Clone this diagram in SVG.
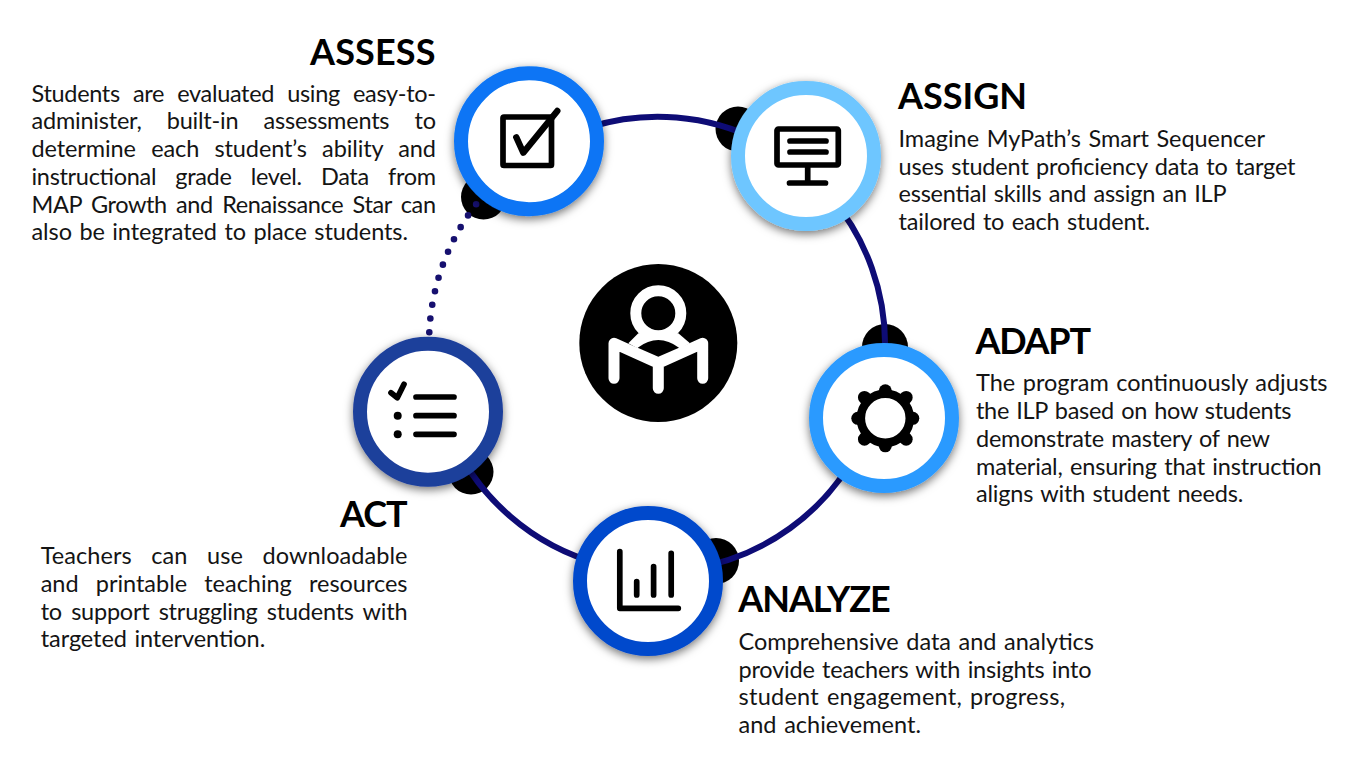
<svg xmlns="http://www.w3.org/2000/svg" width="1372" height="770" viewBox="0 0 1372 770">
<style>
.h{font-family:"Lato","Liberation Sans",sans-serif;font-weight:700;font-size:36px;fill:#000}
.b{font-family:"Lato","Liberation Sans",sans-serif;font-weight:400;font-size:23.5px;fill:#141414;word-spacing:1.6px}
.ring{fill:#fff;stroke-width:14;filter:url(#sh)}
.ic{fill:none;stroke:#000;stroke-width:5.7;stroke-linecap:round;stroke-linejoin:round}
.link{fill:none;stroke:#0e0c76;stroke-width:6}
.dot{fill:#000}
</style>
<defs>
<filter id="sh" x="-30%" y="-30%" width="160%" height="160%"><feDropShadow dx="0" dy="3" stdDeviation="5" flood-color="#000" flood-opacity="0.55"/></filter>
<line id="tooth" x1="0" y1="-20" x2="0" y2="-27.5" stroke="#000" stroke-width="13" stroke-linecap="round"/>
<line id="toothd" x1="0" y1="-20" x2="0" y2="-29.5" stroke="#000" stroke-width="13" stroke-linecap="round"/>
</defs>
<rect width="1372" height="770" fill="#fff"/>
<g id="connectors">
<circle class="dot" cx="738" cy="129" r="22.5"/>
<circle class="dot" cx="885" cy="347" r="23"/>
<circle class="dot" cx="716" cy="561" r="23"/>
<circle class="dot" cx="471" cy="472" r="22.5"/>
<circle class="dot" cx="483.5" cy="197" r="22.5"/>
<path class="link" d="M590 127A227.5 227.5 0 0 1 760 141"/>
<path class="link" d="M830 196A227.5 227.5 0 0 1 885 350"/>
<path class="link" d="M860 446A227.5 227.5 0 0 1 690 569"/>
<path class="link" d="M600 564A227.5 227.5 0 0 1 450 434"/>
<path class="link" d="M429.3 332.3A227.5 227.5 0 0 1 476.3 204" stroke-linecap="round" stroke-dasharray="0 13.85" style="stroke-width:6.6;stroke:#16106f"/>
</g>
<g id="center">
<circle cx="658.3" cy="343" r="79" fill="#000"/>
<circle cx="658.3" cy="313.3" r="22.5" fill="none" stroke="#fff" stroke-width="11"/>
<path d="M628.3 343.3L638.3 333.3H678.3L690 343.3L658.3 360Z" fill="#fff"/>
<path d="M614 378.3V343.3L658.3 363.3L702.7 343.3V378.3M658.3 363.3V388.3" fill="none" stroke="#fff" stroke-width="11" stroke-linecap="round" stroke-linejoin="round"/>
<path d="M637.7 347.7Q658.3 332.3 679 347.7L658.3 356.7Z" fill="#000"/>
</g>
<g id="assess">
<circle class="ring" cx="529" cy="141.3" r="68" stroke="#0a75f5"/>
<rect class="ic" x="503" y="117" width="48.5" height="48.5" rx="1"/>
<path class="ic" style="stroke-width:6.4" d="M516.3 137.3L523.3 152.7L557.3 111"/>
<text class="h" x="310" y="64.6" textLength="125.5">ASSESS</text>
<text class="b" x="31.5" y="101.5" textLength="404.5" style="word-spacing:7.4px">Students are evaluated using easy-to-</text>
<text class="b" x="31.5" y="129.3" textLength="404.5" style="word-spacing:19.4px">administer, built-in assessments to</text>
<text class="b" x="31.5" y="157" textLength="404.5" style="word-spacing:9.4px">determine each student’s ability and</text>
<text class="b" x="31.5" y="184.7" textLength="404.5" style="word-spacing:13.4px">instructional grade level. Data from</text>
<text class="b" x="31.5" y="212.5" textLength="404.5" style="word-spacing:3.8px">MAP Growth and Renaissance Star can</text>
<text class="b" x="31.5" y="240.2" textLength="376.5">also be integrated to place students.</text>
</g>
<g id="assign">
<circle class="ring" cx="806" cy="156" r="68" stroke="#6ec6ff"/>
<rect class="ic" x="777" y="129" width="61.3" height="36" rx="1.5"/>
<path class="ic" d="M790 141H826M790 152H826M807.7 167V183M789.5 183H825.5"/>
<text class="h" x="898" y="109" textLength="129">ASSIGN</text>
<text class="b" x="898.5" y="146.5" textLength="366.5">Imagine MyPath’s Smart Sequencer</text>
<text class="b" x="898.5" y="174.5" textLength="397">uses student proficiency data to target</text>
<text class="b" x="898.5" y="202.2" textLength="328">essential skills and assign an ILP</text>
<text class="b" x="898.5" y="229.8" textLength="251.5">tailored to each student.</text>
</g>
<g id="adapt">
<circle class="ring" cx="884" cy="418" r="68" stroke="#2b9aff"/>
<g transform="translate(885.3 418.3)">
<use href="#tooth"/><use href="#toothd" transform="rotate(45)"/><use href="#tooth" transform="rotate(90)"/><use href="#toothd" transform="rotate(135)"/><use href="#tooth" transform="rotate(180)"/><use href="#toothd" transform="rotate(225)"/><use href="#tooth" transform="rotate(270)"/><use href="#toothd" transform="rotate(315)"/>
</g>
<circle cx="885.3" cy="418.3" r="24.5" fill="#fff" stroke="#000" stroke-width="8.6"/>
<text class="h" x="975.5" y="354" textLength="115.5">ADAPT</text>
<text class="b" x="976" y="391.2" textLength="351.5">The program continuously adjusts</text>
<text class="b" x="976" y="419" textLength="315.5">the ILP based on how students</text>
<text class="b" x="976" y="446.8" textLength="294">demonstrate mastery of new</text>
<text class="b" x="976" y="474.5" textLength="345.7">material, ensuring that instruction</text>
<text class="b" x="976" y="502.3" textLength="267.3">aligns with student needs.</text>
</g>
<g id="analyze">
<circle class="ring" cx="648" cy="581" r="68" stroke="#0449cc"/>
<path class="ic" d="M619.8 551.7V608.3H678.3M636.7 581.7V595M653.6 566.7V595M671.2 553.3V595"/>
<text class="h" x="738.3" y="612" textLength="152.5">ANALYZE</text>
<text class="b" x="738.5" y="649.5" textLength="355.5">Comprehensive data and analytics</text>
<text class="b" x="738.5" y="677.5" textLength="353">provide teachers with insights into</text>
<text class="b" x="738.5" y="705.2" textLength="326.5">student engagement, progress,</text>
<text class="b" x="738.5" y="732.5" textLength="182.5">and achievement.</text>
</g>
<g id="act">
<circle class="ring" cx="428" cy="411.7" r="68" stroke="#1f3f9b"/>
<path class="ic" d="M391 392.7L397.3 397.7L404 384.3M416 397H454M416 415.7H454M416 434.3H454"/>
<circle cx="397.7" cy="415.7" r="4"/><circle cx="397.7" cy="434.3" r="4"/>
<text class="h" x="340" y="526.7" textLength="67.5">ACT</text>
<text class="b" x="40.7" y="563.8" textLength="366.8" style="word-spacing:13.5px">Teachers can use downloadable</text>
<text class="b" x="40.7" y="591.5" textLength="366.8" style="word-spacing:11.3px">and printable teaching resources</text>
<text class="b" x="40.7" y="619.5" textLength="366.8" style="word-spacing:3.4px">to support struggling students with</text>
<text class="b" x="40.7" y="647.2" textLength="224.5">targeted intervention.</text>
</g>
</svg>
